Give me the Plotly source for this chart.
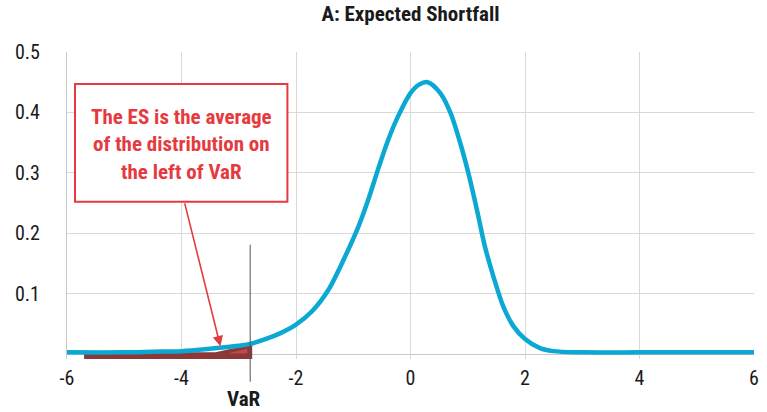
import plotly.graph_objects as go

# Density curve
x_vals = [-6, -5, -4.5, -4, -3.5, -3, -2.8, -2.5, -2.29, -2, -1.72, -1.43, -1.14, -0.91,
          -0.74, -0.57, -0.40, -0.22, 0, 0.15, 0.3, 0.52, 0.70, 0.87, 1.01, 1.16, 1.30,
          1.45, 1.62, 1.80, 2.0, 2.26, 2.49, 3, 4, 5, 6]
density = [0.003, 0.003, 0.004, 0.005, 0.009, 0.014, 0.017, 0.026, 0.034, 0.049, 0.071,
           0.107, 0.162, 0.211, 0.255, 0.305, 0.352, 0.393, 0.432, 0.446, 0.450, 0.432,
           0.399, 0.349, 0.300, 0.239, 0.178, 0.128, 0.079, 0.046, 0.025, 0.010, 0.005,
           0.003, 0.003, 0.003, 0.003]

var_level = -2.8
# shaded ES wedge outline
es_x = [-5.7, -3.4, -3.0, -2.8, -2.8, -5.7]
es_y = [0.0, 0.0, 0.008, 0.015, -0.006, -0.006]
es_hi_x = [-3.2, -2.85, -2.85]
es_hi_y = [0.001, 0.009, 0.001]

x_ticks = [-6, -4, -2, 0, 2, 4, 6]
y_ticks = [0.1, 0.2, 0.3, 0.4, 0.5]

TEXT_FONT = "Liberation Sans Narrow, Arial Narrow, Roboto Condensed, Liberation Sans, sans-serif"
BLUE = "#0AA8D2"
BROWN = "#8B3838"
BROWN_HI = "#C24A4A"
RED = "#E53A3F"

fig = go.Figure()
fig.add_trace(go.Scatter(x=es_x, y=es_y, mode="lines", fill="toself",
                         fillcolor=BROWN, line=dict(color=BROWN, width=4),
                         hoverinfo="skip"))
fig.add_trace(go.Scatter(x=es_hi_x, y=es_hi_y, mode="lines", fill="toself",
                         fillcolor=BROWN_HI, line=dict(color=BROWN_HI, width=0),
                         hoverinfo="skip"))
fig.add_trace(go.Scatter(x=x_vals, y=density, mode="lines",
                         line=dict(color=BLUE, width=4.5, shape="spline", smoothing=0.9),
                         hoverinfo="skip"))

fig.update_layout(
    width=767, height=412,
    margin=dict(l=67, r=8, t=52, b=53),
    paper_bgcolor="white", plot_bgcolor="white",
    showlegend=False,
    font=dict(family=TEXT_FONT, size=20, color="#1a1a1a"),
    title=dict(text="<b>A: Expected Shortfall</b>", x=0.5, xref="paper", xanchor="center",
               y=0.967, yanchor="middle", font=dict(family=TEXT_FONT, size=21, color="#1a1a1a")),
    xaxis=dict(range=[-6, 6], tickvals=x_ticks, ticktext=[str(v) for v in x_ticks],
               showgrid=True, gridcolor="#d9d9d9", gridwidth=1,
               zeroline=False, showline=False,
               ticks="", ticklabelstandoff=5, fixedrange=True),
    yaxis=dict(range=[-0.008, 0.5], tickvals=y_ticks, ticktext=[str(v) for v in y_ticks],
               showgrid=True, gridcolor="#d9d9d9", gridwidth=1,
               zeroline=True, zerolinecolor="#c8c8c8", zerolinewidth=1,
               showline=True, linecolor="#c8c8c8", linewidth=1,
               ticks="", ticklabelstandoff=22, fixedrange=True),
)

# VaR vertical marker
fig.add_shape(type="line", xref="x", yref="paper", x0=var_level, x1=var_level,
              y0=-0.074, y1=0.372, line=dict(color="#555555", width=1))
fig.add_annotation(x=var_level - 0.1, xref="x", y=-0.129, yref="paper", yanchor="middle",
                   text="<b>VaR</b>", showarrow=False,
                   font=dict(family=TEXT_FONT, size=21, color="#1a1a1a"))

# explanatory box
fig.add_shape(type="rect", xref="x", yref="y", x0=-5.86, x1=-2.15, y0=0.252, y1=0.447,
              line=dict(color=RED, width=2), fillcolor="white", layer="above")
fig.add_annotation(x=-4.0, y=0.347, xref="x", yref="y", showarrow=False,
                   text="<b>The ES is the average<br>of the distribution on<br>the left of VaR</b>",
                   align="center", font=dict(family=TEXT_FONT, size=21, color=RED))
fig.add_annotation(x=-3.32, y=0.013, xref="x", yref="y", ax=-3.95, ay=0.252,
                   axref="x", ayref="y", text="", showarrow=True,
                   arrowhead=2, arrowsize=1.3, arrowwidth=1.6, arrowcolor=RED)

fig.write_html("out.html")
